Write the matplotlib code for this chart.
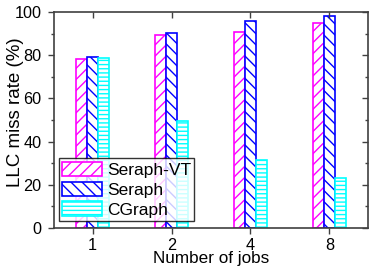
import matplotlib
matplotlib.use("Agg")
import matplotlib.pyplot as plt
import numpy as np

plt.rcParams["font.family"] = ["Liberation Sans", "DejaVu Sans"]
plt.rcParams["hatch.linewidth"] = 1.0

# data
jobs = ["1", "2", "4", "8"]
seraph_vt = [78.1, 89.2, 90.9, 94.9]
seraph = [79.3, 90.1, 95.7, 98.3]
cgraph = [78.7, 49.4, 31.5, 23.0]

series = [
    ("Seraph-VT", seraph_vt, "#ff00ff", "///"),
    ("Seraph", seraph, "#0000ff", "\\\\\\"),
    ("CGraph", cgraph, "#00ffff", "----"),
]

fig = plt.figure(figsize=(3.69, 2.66), dpi=100)
ax = fig.add_axes([0.1463, 0.1429, 0.851, 0.812])

x = np.arange(len(jobs))
w = 0.14
for k, (name, vals, col, hatch) in enumerate(series):
    ax.bar(x + (k - 1) * w, vals, w, color="white", edgecolor=col,
           hatch=hatch, linewidth=1.2, label=name)

ax.set_xlim(-0.49, 3.49)
ax.set_ylim(0, 100)
ax.set_xticks(x)
ax.set_xticklabels(jobs)
ax.set_yticks(np.arange(0, 101, 20))
ax.set_yticks(np.arange(10, 100, 20), minor=True)

for s in ax.spines.values():
    s.set_color("#404040")
    s.set_linewidth(1.2)

ax.tick_params(axis="both", which="major", labelsize=11.7, length=4,
               width=1, color="#404040")
ax.tick_params(axis="x", pad=3)
ax.tick_params(axis="y", pad=5)
ax.tick_params(axis="y", which="minor", length=2, width=1, color="#404040")
ax.tick_params(top=True, right=True, which="both", direction="out")
ax.tick_params(axis="y", which="both", right=True)

ax.set_ylabel("LLC miss rate (%)", fontsize=13.5)
ax.yaxis.set_label_coords(-0.095, 0.537)
ax.set_xlabel("Number of jobs", fontsize=12.3)
ax.xaxis.set_label_coords(0.5, -0.108)

leg = ax.legend(loc="lower left", bbox_to_anchor=(0.016, 0.032), fontsize=12.5,
                handlelength=2.25, handleheight=0.92, handletextpad=0.3,
                labelspacing=0.2, borderpad=0.2, borderaxespad=0,
                frameon=True, fancybox=False, edgecolor="black")
leg.get_frame().set_linewidth(1.0)

# inward ticks on top/right spines
for t in ax.xaxis.get_major_ticks():
    t.tick2line.set_marker(matplotlib.markers.TICKDOWN)
for t in ax.yaxis.get_major_ticks() + ax.yaxis.get_minor_ticks():
    t.tick2line.set_marker(matplotlib.markers.TICKLEFT)

fig.savefig("out.png", dpi=100)
